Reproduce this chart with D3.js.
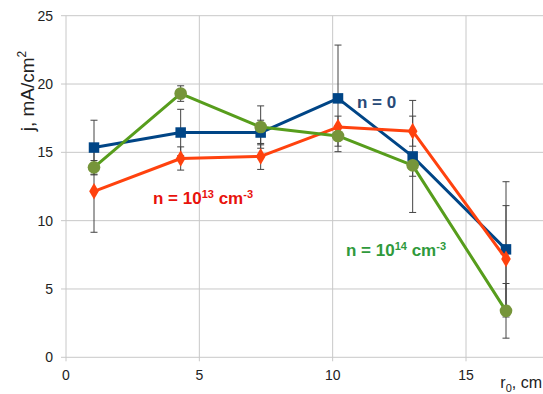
<!DOCTYPE html>
<html>
<head>
<meta charset="utf-8">
<script src="https://cdn.jsdelivr.net/npm/d3@7"></script>
<style>
  body { margin: 0; background: #fff; }
  text { font-family: "Liberation Sans", Arial, sans-serif; }
</style>
</head>
<body>
<script>
var xValues = [1.05, 4.3, 7.3, 10.2, 13.0, 16.5];
var seriesN0 = [15.35, 16.45, 16.45, 18.95, 14.7, 7.9];
var errN0 = [2.0, 1.7, 0.9, 3.9, 4.1, 4.95];
var seriesN13 = [12.15, 14.55, 14.7, 16.85, 16.55, 7.2];
var errN13 = [3.0, 0.85, 0.95, 0.8, 1.1, 3.9];
var seriesN14 = [13.9, 19.3, 16.85, 16.2, 14.05, 3.4];
var errN14 = [0.5, 0.57, 1.55, 0.75, 0.8, 2.0];
var xTicks = [0, 5, 10, 15];
var yTicks = [0, 5, 10, 15, 20, 25];

var width = 543;
var height = 394;

var x = d3.scaleLinear().domain([0, 18]).range([66, 546]);
var y = d3.scaleLinear().domain([0, 25]).range([357.3, 15.7]);

var svg = d3.select("body")
  .append("svg")
  .attr("width", width)
  .attr("height", height);

// grid
svg.selectAll("line.hgrid")
  .data(yTicks)
  .enter()
  .append("line")
  .attr("x1", 61)
  .attr("x2", width)
  .attr("y1", function(d) { return y(d); })
  .attr("y2", function(d) { return y(d); })
  .attr("stroke", "#c8c8c8")
  .attr("stroke-width", 1);

svg.selectAll("line.vgrid")
  .data(xTicks)
  .enter()
  .append("line")
  .attr("x1", function(d) { return x(d); })
  .attr("x2", function(d) { return x(d); })
  .attr("y1", y(25))
  .attr("y2", y(0) + 4)
  .attr("stroke", "#c8c8c8")
  .attr("stroke-width", 1);

// tick labels
svg.selectAll("text.ytick")
  .data(yTicks)
  .enter()
  .append("text")
  .text(function(d) { return d; })
  .attr("x", 53)
  .attr("y", function(d) { return y(d) + 5; })
  .attr("text-anchor", "end")
  .attr("font-size", "14px")
  .attr("fill", "#222");

svg.selectAll("text.xtick")
  .data(xTicks)
  .enter()
  .append("text")
  .text(function(d) { return d; })
  .attr("x", function(d) { return x(d); })
  .attr("y", 380)
  .attr("text-anchor", "middle")
  .attr("font-size", "14px")
  .attr("fill", "#222");

// axis titles
var yTitle = svg.append("text")
  .attr("transform", "translate(34,91) rotate(-90)")
  .attr("text-anchor", "middle")
  .attr("font-size", "19px")
  .attr("fill", "#222");
yTitle.append("tspan").text("j, mA/cm");
yTitle.append("tspan").text("2").attr("font-size", "12px").attr("dy", -8);

var xTitle = svg.append("text")
  .attr("x", 542)
  .attr("y", 388)
  .attr("text-anchor", "end")
  .attr("font-size", "16px")
  .attr("fill", "#222");
xTitle.append("tspan").text("r");
xTitle.append("tspan").text("0").attr("font-size", "11px").attr("dy", 4);
xTitle.append("tspan").text(", cm").attr("dy", -4);

var series = [
  { values: seriesN0, errors: errN0, line: "#004586", fill: "#004586", shape: d3.symbolSquare, size: 110 },
  { values: seriesN13, errors: errN13, line: "#ff420e", fill: "#ff420e", shape: d3.symbolDiamond, size: 80 },
  { values: seriesN14, errors: errN14, line: "#579d1c", fill: "#76953a", shape: d3.symbolCircle, size: 125 }
];

// error bars
series.forEach(function(s) {
  var g = svg.append("g");
  s.values.forEach(function(v, i) {
    var cx = x(xValues[i]);
    var top = y(v + s.errors[i]);
    var bot = y(v - s.errors[i]);
    g.append("line").attr("x1", cx).attr("x2", cx).attr("y1", top).attr("y2", bot)
      .attr("stroke", "#444").attr("stroke-width", 1);
    g.append("line").attr("x1", cx - 3.5).attr("x2", cx + 3.5).attr("y1", top).attr("y2", top)
      .attr("stroke", "#444").attr("stroke-width", 1);
    g.append("line").attr("x1", cx - 3.5).attr("x2", cx + 3.5).attr("y1", bot).attr("y2", bot)
      .attr("stroke", "#444").attr("stroke-width", 1);
  });
});

var line = d3.line()
  .x(function(d, i) { return x(xValues[i]); })
  .y(function(d) { return y(d); });

series.forEach(function(s) {
  svg.append("path")
    .datum(s.values)
    .attr("d", line)
    .attr("fill", "none")
    .attr("stroke", s.line)
    .attr("stroke-width", 3)
    .attr("stroke-linejoin", "round");
  svg.selectAll(null)
    .data(s.values)
    .enter()
    .append("path")
    .attr("d", d3.symbol().type(s.shape).size(s.size))
    .attr("transform", function(d, i) {
      return "translate(" + x(xValues[i]) + "," + y(d) + ")";
    })
    .attr("fill", s.fill);
});

// annotations
function note(px, py, color, parts) {
  var t = svg.append("text")
    .attr("x", px)
    .attr("y", py)
    .attr("font-size", "17px")
    .attr("font-weight", "bold")
    .attr("fill", color);
  parts.forEach(function(p) {
    var ts = t.append("tspan").text(p[0]);
    if (p[1] === "sup") ts.attr("font-size", "11px").attr("baseline-shift", "55%");
  });
}

note(357, 108, "#284a78", [["n = 0"]]);
note(153, 204, "#e8120c", [["n = 10"], ["13", "sup"], [" cm"], ["-3", "sup"]]);
note(346, 256, "#2f9a3c", [["n = 10"], ["14", "sup"], [" cm"], ["-3", "sup"]]);
</script>
</body>
</html>
